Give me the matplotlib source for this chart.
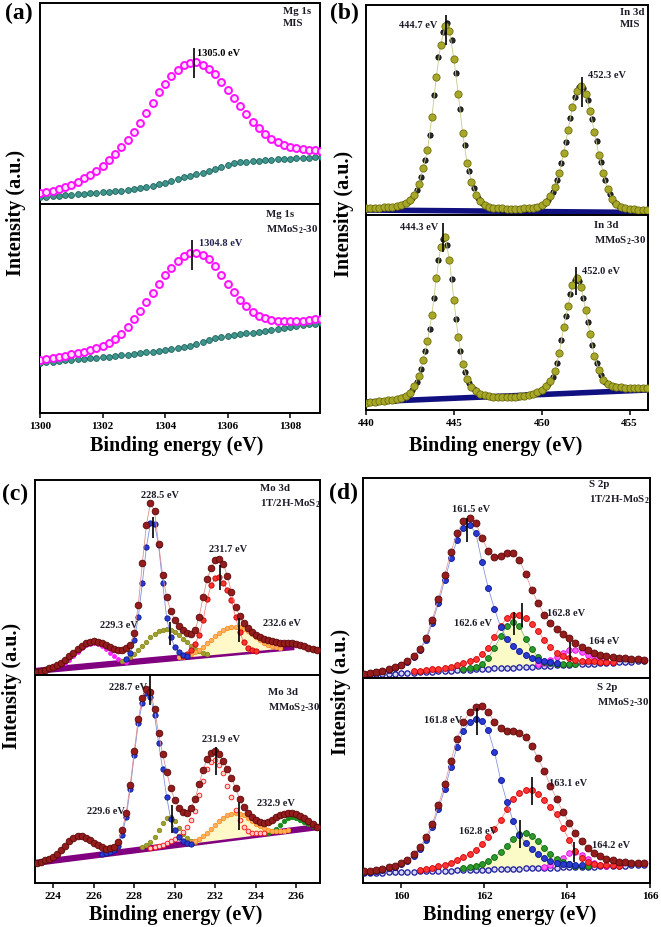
import numpy as np
import matplotlib
matplotlib.use("Agg")
import matplotlib.pyplot as plt

# fonts: bold Times-like everywhere
plt.rcParams['font.family'] = 'Liberation Serif'
plt.rcParams['font.weight'] = 'bold'
plt.rcParams['mathtext.fontset'] = 'custom'
plt.rcParams['mathtext.rm'] = 'Liberation Serif:bold'
plt.rcParams['mathtext.bf'] = 'Liberation Serif:bold'

W, H = 661, 927


def energy(start, stop, step):
    return np.round(np.arange(start, stop + step / 2, step), 3)


# ---------------- (a) Mg 1s ----------------
mg_x = energy(1300.0, 1309.0, 0.2)
mg_mis = [11, 12, 13, 15, 17, 19, 22, 26, 29, 33, 38, 44, 50, 57, 64, 72, 81, 91, 101, 112,
          120, 128, 134, 139, 141, 142, 139, 135, 130, 122, 114, 106, 98, 90, 82, 76, 70, 65, 62, 59,
          57, 56, 55, 54, 54, 53]
mg_mis_bg = [7, 7.5, 8, 8.5, 9, 9.5, 10, 10.5, 11, 11.5, 12, 12.5, 13, 13.5, 14.5, 15, 16, 17, 18, 20,
             21, 23, 25, 27, 28, 30, 31, 33, 35, 37, 39, 41, 42, 42.5, 43, 43.5, 44, 44.5, 45, 45.5,
             45.5, 46, 46, 46.5, 47, 47]
mg_mmos = [53, 54, 55, 56, 57.5, 59, 60, 61.5, 63, 65, 67, 70, 74, 79, 86, 94, 102, 111, 120, 129,
           138, 145, 152, 157, 160, 160, 158, 154, 147, 138, 129, 121, 113, 107, 101, 97, 95, 93, 92.5, 92,
           92, 92, 92.5, 93, 94, 94]
mg_mmos_bg = [50, 51, 51.5, 52, 53, 53.5, 54, 54.5, 55, 55.5, 56, 56.5, 57, 58, 58.5, 59, 60, 61, 61.5, 62,
              63, 64, 65, 66, 67, 69, 71, 73, 75, 76, 77, 78, 79, 80, 80.5, 81, 82, 83, 84, 85,
              86, 87, 88, 89, 89.5, 90]

# ---------------- (b) In 3d ----------------
in_x = energy(440.0, 456.0, 0.25)
in_raw_x = energy(440.125, 455.875, 0.25)
in_mis_fit = [7, 7, 7.5, 7.5, 8, 8, 8.5, 9, 10, 12, 15, 20, 31, 47, 65, 98, 138, 170, 189, 184,
              156, 121, 82, 52, 33, 20, 14, 10, 8, 7.5, 7, 7, 6.5, 6.5, 6.5, 6.5, 7, 7, 7.5, 8.5,
              10, 13, 19, 28, 42, 62, 85, 108, 124, 129, 121, 104, 83, 60, 42, 26, 16, 11, 8, 7,
              6, 6, 5.5, 5, 5]
in_mis_raw = [7, 7, 7.5, 7.5, 8, 8, 8.5, 9.5, 11, 13, 17, 25, 38, 55, 80, 120, 158, 183, 192, 175,
              142, 106, 70, 44, 27, 17, 12, 9, 7.5, 7, 6.5, 6, 6, 6, 6, 6.5, 6.5, 7, 8, 9,
              11, 15, 23, 35, 52, 73, 97, 118, 128, 127, 115, 96, 74, 53, 35, 21, 13, 9, 7, 6,
              6, 5.5, 5, 5]
in_mis_bg = [5, 2.5]
in_mmos_fit = [7, 7.5, 8, 8.5, 9, 9.5, 10, 10.5, 12, 14, 17, 24, 34, 50, 69, 95, 132, 163, 173, 150,
               110, 73, 46, 31, 23, 19, 16, 14.5, 13.5, 13, 13, 13, 13, 13, 13, 13.5, 14, 15, 16, 17.5,
               20, 24, 29, 39, 57, 83, 104, 125, 132, 123, 100, 76, 54, 40, 30, 26, 24, 23, 22.5, 22,
               22, 22, 22, 22, 22]
in_mmos_raw = [7, 7.5, 8, 8.5, 9, 9.5, 10, 11, 13, 15, 20, 28, 41, 59, 81, 112, 150, 171, 165, 131,
               91, 59, 38, 27, 21, 17, 15, 14, 13, 12.5, 12.5, 12.5, 12.5, 12.5, 13, 13.5, 14.5, 15.5, 16.5, 18.5,
               22, 26, 33, 47, 70, 94, 116, 130, 129, 112, 88, 65, 47, 35, 28, 25, 23.5, 22.5, 22, 22,
               22, 22, 22, 22]
in_mmos_bg = [8, 20]
in_bg_x = [440.0, 456.0]

# ---------------- (c) Mo 3d ----------------
mo_x = energy(223.2, 237.0, 0.2)
mo_bg_x = [223.1, 235.9]
mo1_env = [3.5, 4.5, 5.5, 7, 8.5, 10, 12.5, 15.5, 19, 22, 26, 29.5, 32, 33.5, 34, 33.5, 32, 30, 28, 26.5,
           25.5, 25.5, 27, 30, 42, 70, 112, 150, 172, 164, 131, 100, 78, 64, 55, 49, 45, 42, 41, 45,
           58, 78, 96, 107, 115, 116, 111, 99, 83, 68, 59, 52, 47, 43, 40, 38, 36.5, 35, 34, 33,
           32.5, 32, 32, 32, 31, 30, 29, 27.5, 26, 25]
mo1_bg = [4, 28]
mo1_blue_x = energy(227.6, 230.6, 0.2)
mo1_blue = [16, 22, 35, 58, 92, 128, 152, 151, 130, 92, 57, 38, 28, 23, 20, 19]
mo1_olive_x = energy(227.4, 231.6, 0.2)
mo1_olive = [14, 16, 18.5, 21.5, 25, 29, 33.5, 38, 41.5, 44, 45.5, 46, 45, 43, 40, 36.5, 33, 29.5, 26.5, 24,
             22.5, 21.5]
mo1_red_x = energy(230.4, 234.0, 0.2)
mo1_red = [19, 21, 25, 31, 40, 55, 76, 90, 97, 98, 92, 85, 75, 58, 43, 33, 27, 25, 24.5]
mo1_orange_x = energy(230.2, 235.2, 0.2)
mo1_orange = [18, 18.5, 19.5, 21, 23, 25.5, 28.5, 32, 35.5, 39, 42, 45, 47, 48, 48.5, 48, 46.5, 44, 41, 38,
              35, 32.5, 30.5, 29, 28, 27.5]
mo1_mag_x = energy(224.6, 227.6, 0.2)
mo1_mag = [12, 15, 19, 23, 27, 30, 31.5, 32, 31, 29, 26, 22.5, 19, 16.5, 14.5, 13.5]

mo2_env = [20, 21.5, 23, 24.5, 26, 29, 33, 37, 42, 45.5, 47, 47, 45.5, 43, 40.5, 38, 36, 34.5, 35, 36.5,
           41, 53, 70, 98, 132, 164, 185, 194, 191, 174, 150, 129, 111, 95, 83, 75, 71, 70, 75, 84,
           99, 113, 124, 130, 132, 129, 122, 114, 105, 95, 84, 76, 70, 66, 63, 61, 60, 61, 63, 66,
           68, 69.5, 70, 70, 69, 67, 65, 62, 59, 56]
mo2_bg_x = [223.1, 237.1]
mo2_bg = [20, 56]
mo2_blue_x = energy(226.4, 230.8, 0.2)
mo2_blue = [29, 30, 31, 33, 37, 48, 66, 94, 128, 160, 180, 190, 186, 168, 140, 114, 86, 64, 53, 46,
            42, 40, 39]
mo2_olive_x = energy(228.4, 231.0, 0.2)
mo2_olive = [36, 38, 41, 46, 53, 60, 65, 66, 62, 55, 49, 45, 42.5, 41]
mo2_red_x = energy(228.8, 234.4, 0.2)
mo2_red = [35, 36, 37, 38.5, 40, 42, 44, 47, 51, 56, 63, 72, 88, 102, 114, 121, 123, 118, 110, 97,
           86, 73, 63, 56, 52, 50.5, 50, 50, 50]
mo2_orange_x = energy(230.6, 235.6, 0.2)
mo2_orange = [40, 41, 42.5, 44.5, 47, 50, 54, 58, 62, 65.5, 68, 69.5, 70, 69.5, 68, 65.5, 62.5, 59.5, 57, 55,
              53.5, 52.5, 52, 52, 52.5, 53]
mo2_green_x = energy(234.6, 237.0, 0.2)
mo2_green = [50.5, 52, 54.5, 58, 62, 65, 66, 65.5, 63.5, 61, 59, 57.5, 56.5]

# ---------------- (d) S 2p ----------------
s_x = energy(159.1, 165.85, 0.15)
s1_env = [4.5, 5.5, 6.5, 7.5, 9, 11, 13.5, 17, 22, 29, 40, 58, 79, 103, 126, 145, 157, 160, 155, 140,
          127, 121, 122, 125, 125, 118, 104, 88, 75, 63, 55, 49, 44, 40, 35, 31, 28, 25.5, 23.5, 22,
          21, 20.5, 20, 19.5, 19, 18.5]
s1_bg = [3, 3.3, 3.6, 3.9, 4.2, 4.5, 4.9, 5.2, 5.5, 5.8, 6.1, 6.4, 6.7, 7.1, 7.4, 7.7, 8.0, 8.3, 8.6, 8.9,
         9.2, 9.6, 9.9, 10.2, 10.5, 10.8, 11.1, 11.4, 11.7, 12.0, 12.4, 12.7, 13.0, 13.3, 13.6, 13.9, 14.2, 14.5, 14.9, 15.2,
         15.5, 15.8, 16.1, 16.4, 16.7, 17.0]
s1_blue_x = energy(159.1, 163.75, 0.15)
s1_blue = [4, 5, 6, 7, 8.5, 10.5, 13, 16.5, 21.5, 28, 38, 55, 75, 98, 120, 138, 150, 153, 145, 116,
           90, 69, 51, 39, 32, 27, 23.5, 20.5, 18, 17, 16, 15.5]
s1_red_x = energy(160.3, 165.1, 0.15)
s1_red = [7, 7.5, 8, 8.7, 9.5, 10.5, 11.5, 13, 15, 17, 19, 24, 30, 41, 52, 60, 63, 63, 60, 54,
          47, 38, 31, 25.5, 22, 20, 18.5, 17.5, 17, 16.8, 16.5, 16.5, 16.5]
s1_green_x = energy(161.5, 164.2, 0.15)
s1_green = [9, 10, 11.5, 14, 20, 30, 42, 52, 56, 52, 39, 29, 21, 16.5, 15, 14.5, 14.5, 14.5, 14.5]
s1_mag_x = energy(163.3, 165.1, 0.15)
s1_mag = [14, 15.5, 18, 21.5, 25.5, 28, 28, 26, 23, 20, 18, 16.5, 16]

s2_env = [12, 12.5, 13.5, 14.5, 16, 17.5, 20, 23.5, 29, 36, 46, 59, 78, 99, 122, 144, 161, 171, 176, 177,
          171, 161, 155, 152, 152, 150, 146, 137, 125, 112, 97, 84, 71, 60, 50, 42, 35, 30, 27, 24.5,
          23, 21.5, 21, 20.5, 20, 20]
s2_bg = [10, 10.2, 10.4, 10.5, 10.7, 10.9, 11.1, 11.2, 11.4, 11.6, 11.8, 11.9, 12.1, 12.3, 12.5, 12.6, 12.8, 13.0, 13.2, 13.3,
         13.5, 13.7, 13.9, 14.1, 14.2, 14.4, 14.6, 14.8, 14.9, 15.1, 15.3, 15.5, 15.6, 15.8, 16.0, 16.2, 16.3, 16.5, 16.7, 16.9,
         17.0, 17.2, 17.4, 17.6, 17.7, 17.9]
s2_blue_x = energy(159.1, 164.35, 0.15)
s2_blue = [11, 11.5, 12.5, 13.5, 15, 16.5, 19, 22, 27, 34, 43, 56, 74, 94, 116, 136, 152, 161, 164, 162,
           153, 131, 103, 81, 62, 48, 40, 34, 29, 25, 22, 20.5, 19.5, 19, 18.5, 18]
s2_red_x = energy(160.45, 165.25, 0.15)
s2_red = [13, 14, 15.5, 17, 18.5, 20.5, 23, 26, 29.5, 33, 39, 46, 54, 63, 74, 84, 90, 93, 93, 89,
          83, 76, 69, 55, 43, 32, 25.5, 21.5, 19.5, 18.5, 18, 17.8, 17.5]
s2_green_x = energy(161.5, 164.5, 0.15)
s2_green = [15, 16, 17.5, 19.5, 22, 26, 31, 37, 44, 49, 50, 47, 42, 35, 29, 24, 21, 19, 17.5, 17, 16.8]
s2_mag_x = energy(163.45, 164.95, 0.15)
s2_mag = [16, 18, 21, 25, 30, 31, 28, 24, 20.5, 18.5, 17.5]

TXT = '#1c1c28'

fig = plt.figure(figsize=(W / 100, H / 100), dpi=100)


def box(x0, y0, x1, y1, xlim, ylim, bottom=False):
    ax = fig.add_axes([x0 / W, 1 - y1 / H, (x1 - x0) / W, (y1 - y0) / H])
    ax.set_xlim(*xlim)
    ax.set_ylim(*ylim)
    ax.set_yticks([])
    for s in ax.spines.values():
        s.set_linewidth(1.4)
    if bottom:
        ax.tick_params(axis='x', direction='out', length=3.5, width=1.1, labelsize=8, pad=3)
    else:
        ax.set_xticks([])
    return ax


def dots(ax, x, y, color, ms=3.4, face=None, edge=None, line=None, z=3, mew=0.6):
    ax.plot(x, y, ls='-' if line else 'none', color=line or color, lw=0.6,
            marker='o', ms=ms, mfc=face or color, mec=edge or color, mew=mew, zorder=z)


def mark(ax, x, y0, y1):
    ax.plot([x, x], [y0, y1], color='black', lw=1.2, zorder=6, solid_capstyle='butt')


def note(ax, x, y, s, ha='left', color=TXT):
    ax.text(x, y, s, ha=ha, va='center', fontsize=7.5, color=color, zorder=7)


def tag(ax, x, y, s):
    ax.text(x, y, s, ha='left', va='top', fontsize=7.8, color=TXT, linespacing=1.45, zorder=7)


# ---- panel (a)
a1 = box(40, 3, 320, 204, (1300, 1308.96), (0, 201))
a2 = box(40, 204, 320, 413, (1300, 1308.96), (0, 209), bottom=True)
a2.set_xticks([1300, 1302, 1304, 1306, 1308])
for ax, top, bg in [(a1, mg_mis, mg_mis_bg), (a2, mg_mmos, mg_mmos_bg)]:
    dots(ax, mg_x, bg, '#2f8079', ms=4.2, face='#3f948c', edge='#1f625c')
    dots(ax, mg_x, top, '#ff00ff', ms=5.0, face='#ffe4ff', edge='#ff10ff', mew=1.4, z=4)
mark(a1, 1304.93, 126, 156)
note(a1, 1305.02, 151, '1305.0 eV', color='black')
tag(a1, 1307.78, 197, 'Mg 1s\nMIS')
mark(a2, 1304.86, 143, 173)
note(a2, 1305.09, 169, '1304.8 eV', color='#23234f')
tag(a2, 1307.23, 203, 'Mg 1s\nMMoS$_2$-30')

# ---- panel (b)
b1 = box(366, 5, 648, 215, (440, 456.05), (0, 210))
b2 = box(366, 215, 648, 410, (440, 456.05), (0, 195), bottom=True)
b2.set_xticks([440, 445, 450, 455])
for ax, fit, raw, bg in [(b1, in_mis_fit, in_mis_raw, in_mis_bg),
                         (b2, in_mmos_fit, in_mmos_raw, in_mmos_bg)]:
    ax.plot(in_bg_x, bg, color='#101080', lw=4, zorder=2, solid_capstyle='butt')
    dots(ax, in_raw_x, raw, '#151515', ms=3.8, face='#2a2a2a', edge='#050505', z=3)
    dots(ax, in_x, fit, '#9c9c1c', ms=5.2, face='#a8a828', edge='#6e6e10', line='#c9c98a', z=4)
mark(b1, 444.58, 170, 200)
note(b1, 444.09, 190, '444.7 eV', ha='right')
mark(b1, 452.29, 108, 138)
note(b1, 452.61, 140, '452.3 eV')
tag(b1, 454.43, 207, 'In 3d\nMIS')
mark(b2, 444.36, 158, 187)
note(b2, 444.09, 182, '444.3 eV', ha='right')
mark(b2, 451.97, 115, 143)
note(b2, 452.27, 138, '452.0 eV')
tag(b2, 453.0, 189, 'In 3d\nMMoS$_2$-30')

# ---- panel (c)
c1 = box(35, 480, 320, 675, (223.1, 237.17), (0, 195))
c2 = box(35, 675, 320, 883, (223.1, 237.17), (0, 208), bottom=True)
c2.set_xticks([224, 226, 228, 230, 232, 234, 236])

c1.plot(mo_bg_x, mo1_bg, color='#800080', lw=4.5, zorder=2, solid_capstyle='butt')
c1.fill_between(mo1_orange_x, mo1_orange, np.interp(mo1_orange_x, mo_bg_x, mo1_bg),
                color='#fff8c8', lw=0, zorder=2)
dots(c1, mo1_mag_x, mo1_mag, '#ff20ff', ms=2.8, z=3)
dots(c1, mo1_olive_x, mo1_olive, '#8c8c1e', ms=3.2, face='#a0a030', z=3)
dots(c1, mo1_orange_x, mo1_orange, '#ff9020', ms=3.2, face='#ffb060', z=3)
dots(c1, mo1_red_x, mo1_red, '#ff1a1a', ms=3.8, face='#ff3030', edge='#c00000', line='#ff8080', z=4)
dots(c1, mo1_blue_x, mo1_blue, '#1a28c0', ms=3.8, face='#2a3ad0', edge='#0a1590', line='#8090e0', z=4)
dots(c1, mo_x, mo1_env, '#8c1414', ms=4.8, face='#951c1c', edge='#5a0808', line='#e09090', z=5)
note(c1, 229.27, 180, '228.5 eV', ha='center')
mark(c1, 228.91, 137, 158)
note(c1, 232.63, 125, '231.7 eV', ha='center')
mark(c1, 232.24, 85, 110)
note(c1, 228.19, 50, '229.3 eV', ha='right')
mark(c1, 229.77, 30, 53)
note(c1, 234.36, 51, '232.6 eV')
mark(c1, 233.19, 33, 57)
tag(c1, 234.21, 191, 'Mo 3d\n1T/2H-MoS$_2$')

c2.plot(mo2_bg_x, mo2_bg, color='#800080', lw=4.5, zorder=2, solid_capstyle='butt')
c2.fill_between(mo2_orange_x, mo2_orange, np.interp(mo2_orange_x, mo2_bg_x, mo2_bg),
                color='#fff8c8', lw=0, zorder=2)
dots(c2, mo2_green_x, mo2_green, '#1a8a1a', ms=3.2, z=3)
dots(c2, mo2_olive_x, mo2_olive, '#8c8c1e', ms=3.2, face='#a0a030', z=3)
dots(c2, mo2_orange_x, mo2_orange, '#ff9020', ms=3.2, face='#ffb060', z=3)
dots(c2, mo2_red_x, mo2_red, '#ff1a1a', ms=3.4, face='#ffd0d0', edge='#ff1010', z=4)
dots(c2, mo2_blue_x, mo2_blue, '#1a28c0', ms=3.8, face='#2a3ad0', edge='#0a1590', line='#8090e0', z=4)
dots(c2, mo_x, mo2_env, '#8c1414', ms=4.8, face='#951c1c', edge='#5a0808', line='#e09090', z=5)
note(c2, 228.63, 195, '228.7 eV', ha='right')
mark(c2, 228.78, 178, 208)
note(c2, 232.28, 143, '231.9 eV', ha='center')
mark(c2, 232.04, 108, 136)
note(c2, 227.54, 71, '229.6 eV', ha='right')
mark(c2, 229.85, 50, 78)
note(c2, 234.06, 80, '232.9 eV')
mark(c2, 233.17, 53, 81)
tag(c2, 234.61, 195, 'Mo 3d\nMMoS$_2$-30')

# ---- panel (d)
d1 = box(363, 478, 650, 678, (159.08, 166.0), (0, 200))
d2 = box(363, 678, 650, 883, (159.08, 166.0), (0, 205), bottom=True)
d2.set_xticks([160, 162, 164, 166])

for ax, env, bg, blue, red, green, mag in [
        (d1, s1_env, s1_bg, (s1_blue_x, s1_blue), (s1_red_x, s1_red), (s1_green_x, s1_green), (s1_mag_x, s1_mag)),
        (d2, s2_env, s2_bg, (s2_blue_x, s2_blue), (s2_red_x, s2_red), (s2_green_x, s2_green), (s2_mag_x, s2_mag))]:
    ax.fill_between(green[0], green[1], np.interp(green[0], s_x, bg), color='#fbfbc8', lw=0, zorder=2)
    dots(ax, s_x, bg, '#1a1aa0', ms=3.8, face='#d8d8ff', edge='#1a1a9a', mew=0.9, z=3)
    dots(ax, *mag, '#ff20ff', ms=4.0, face='#ff60ff', edge='#e000e0', line='#ff90ff', z=4)
    dots(ax, *green, '#1f8a1f', ms=4.2, face='#2a9a2a', edge='#0f600f', line='#80c080', z=4)
    dots(ax, *red, '#ff2020', ms=4.2, face='#ff3535', edge='#c80000', line='#ff9090', z=4)
    dots(ax, *blue, '#1a2ac0', ms=4.3, face='#2a3ad0', edge='#0a1590', line='#8a96e0', z=4)
    dots(ax, s_x, env, '#8c1414', ms=5.0, face='#951c1c', edge='#5a0808', line='#e0a0a0', z=5)

note(d1, 161.69, 168, '161.5 eV', ha='center')
mark(d1, 161.59, 136, 160)
note(d1, 162.19, 55, '162.6 eV', ha='right')
mark(d1, 162.71, 43, 66)
mark(d1, 162.91, 51, 75)
note(d1, 163.51, 65, '162.8 eV')
note(d1, 164.52, 36, '164 eV')
mark(d1, 164.06, 18, 36)
tag(d1, 164.52, 198, 'S 2p\n1T/2H-MoS$_2$')

note(d2, 161.47, 163, '161.8 eV', ha='right')
mark(d2, 161.83, 148, 175)
note(d2, 163.56, 100, '163.1 eV')
mark(d2, 163.16, 78, 106)
note(d2, 162.31, 51, '162.8 eV', ha='right')
mark(d2, 162.87, 35, 63)
note(d2, 164.59, 38, '164.2 eV')
mark(d2, 164.16, 21, 41)
tag(d2, 164.72, 200, 'S 2p\nMMoS$_2$-30')

# axis labels and panel letters, placed in pixel positions
for cx, cy in [(177, 446), (496, 446), (176, 915), (510, 915)]:
    fig.text(cx / W, 1 - cy / H, 'Binding energy (eV)', ha='center', va='center', fontsize=14.5)
for cx, cy in [(16, 213), (344, 214), (12, 686), (341, 692)]:
    fig.text(cx / W, 1 - cy / H, 'Intensity (a.u.)', ha='center', va='center',
             rotation=90, fontsize=14.5)
for cx, cy, s in [(19, 13, '(a)'), (344, 13, '(b)'), (15, 494, '(c)'), (344, 493, '(d)')]:
    fig.text(cx / W, 1 - cy / H, s, ha='center', va='center', fontsize=17)

fig.savefig('out.png', dpi=100)
